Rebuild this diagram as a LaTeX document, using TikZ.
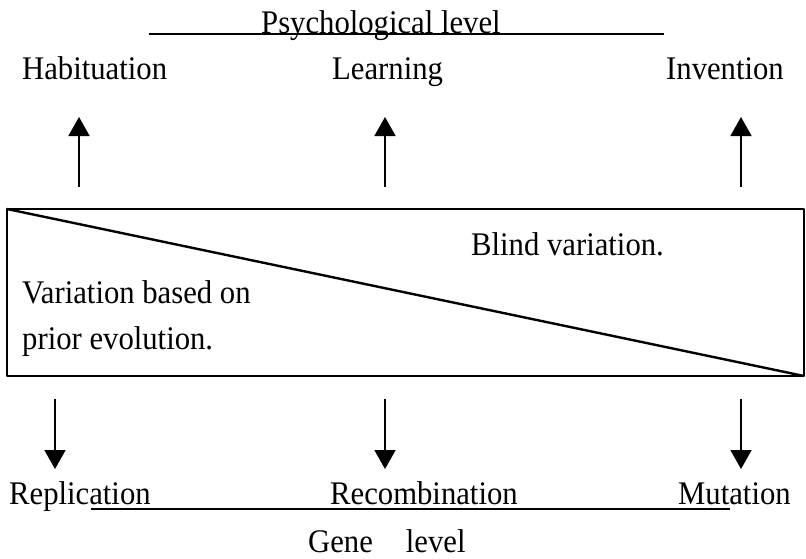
\documentclass[tikz,border=0pt]{standalone}
\usepackage{fontspec}
\setmainfont[FakeStretch=0.93]{Liberation Serif}
\usetikzlibrary{arrows.meta}
\tikzset{
    lbl/.style={inner sep=0pt,anchor=base west,font=\fontsize{33}{38}\selectfont},
    varr/.style={line width=1.8pt,-{Triangle[length=19pt,width=21pt]}}
}
\begin{document}
\begin{tikzpicture}[x=1pt,y=-1pt,line join=round]
    \useasboundingbox (0,0) rectangle (806,558);

    % psychological level
    \node[lbl] (psy) at (261,33) {Psychological level};
    \draw[line width=1.4pt] (149,34) -- (664,34);
    \node[lbl] (hab) at (22,79) {Habituation};
    \node[lbl] (lrn) at (332,79) {Learning};
    \node[lbl] (inv) at (666,79) {Invention};

    \foreach \x/\n in {79/hab,385/lrn,741/inv} {
        \coordinate (\n-s) at (\x,187);
        \coordinate (\n-t) at (\x,117);
        \draw[varr] (\n-s) -- (\n-t);
    }

    % the box
    \coordinate (tl) at (7,209);
    \coordinate (br) at (804,376);
    \draw[line width=2pt] (tl) rectangle (br);
    \draw[line width=2.4pt] (tl) -- (br);
    \node[lbl] (bv) at (471,255) {Blind variation.};
    \node[lbl] (vb) at (22,303) {Variation based on};
    \node[lbl] (pe) at (22,349) {prior evolution.};

    \foreach \x/\n in {55/rep,385/rec,741/mut} {
        \coordinate (\n-s) at (\x,399);
        \coordinate (\n-t) at (\x,469);
        \draw[varr] (\n-s) -- (\n-t);
    }

    % gene level
    \node[lbl] (rep) at (9,504) {Replication};
    \node[lbl] (rec) at (330,504) {Recombination};
    \node[lbl] (mut) at (678,504) {Mutation};
    \draw[line width=1.4pt] (91,509) -- (730,509);
    \node[lbl] (gen) at (308,552) {Gene\hspace{33pt}level};
\end{tikzpicture}
\end{document}
